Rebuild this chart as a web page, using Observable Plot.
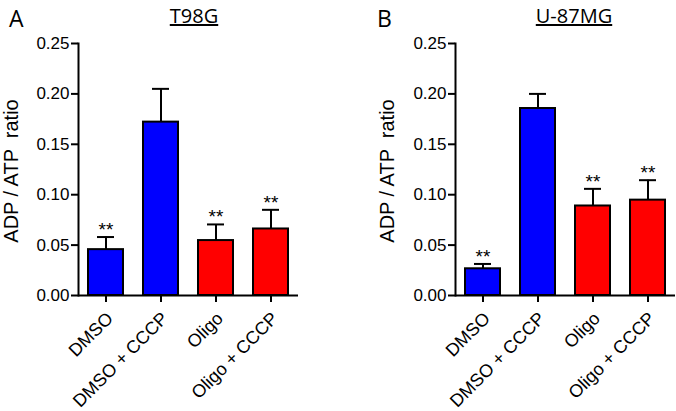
<!DOCTYPE html>
<html>
<head>
<meta charset="utf-8">
<script src="https://cdn.jsdelivr.net/npm/d3@7"></script>
<script src="https://cdn.jsdelivr.net/npm/@observablehq/plot@0.6"></script>
<style>
  html, body { margin: 0; padding: 0; background: #fff; }
  #wrap { position: relative; width: 676px; height: 411px; overflow: hidden; background: #fff; }
  .panel { position: absolute; top: 0; }
  .letter { position: absolute; top: 3px; font: 23px "Open Sans", sans-serif; line-height: 30px; height: 30px; color: #000; }
  .title { position: absolute; top: 4px; font: 20px "Open Sans", sans-serif; line-height: 24px; color: #000; text-decoration: underline; text-decoration-thickness: 1.5px; transform: translateX(-50%); white-space: nowrap; }
  .ylab { position: absolute; font: 20px "Liberation Sans", Arial, sans-serif; line-height: 22px; color: #000; white-space: pre; transform: translate(-50%, -50%) rotate(-90deg); }
</style>
</head>
<body>
<div id="wrap"></div>
<script>
const categories = ["DMSO", "DMSO + CCCP", "Oligo", "Oligo + CCCP"];
const barColors = ["#0000ff", "#0000ff", "#ff0000", "#ff0000"];
const t98gMeans = [0.0455, 0.172, 0.0545, 0.066];
const t98gErrors = [0.0125, 0.033, 0.016, 0.019];
const t98gStars = ["**", "", "**", "**"];
const u87Means = [0.0265, 0.1855, 0.0888, 0.0946];
const u87Errors = [0.0048, 0.0145, 0.017, 0.0198];
const u87Stars = ["**", "", "**", "**"];
const yTicks = [0, 0.05, 0.10, 0.15, 0.20, 0.25];
const panelTitles = ["T98G", "U-87MG"];
const panelLetters = ["A", "B"];
const yLabel = "ADP / ATP  ratio";

const FONT = "Liberation Sans, Arial, sans-serif";

function makePanel(means, errors, stars, opts) {
  const data = categories.map((c, i) => ({
    cond: c, value: means[i], err: errors[i], top: means[i] + errors[i],
    color: barColors[i], star: stars[i]
  }));
  return Plot.plot({
    width: opts.width,
    height: 411,
    marginLeft: opts.marginLeft,
    marginRight: opts.marginRight,
    marginTop: 43,
    marginBottom: 116,
    style: { fontFamily: FONT, color: "#000", background: "transparent", overflow: "visible" },
    x: { domain: categories, paddingInner: 0.355, paddingOuter: 0.1775, label: null },
    y: { domain: [0, 0.25], label: null },
    marks: [
      Plot.axisY({ ticks: yTicks, tickFormat: d3.format(".2f"), tickSize: 7, tickPadding: 2, strokeWidth: 2, fontSize: 17, fontFamily: FONT, label: null }),
      Plot.axisX({ tickSize: 7, strokeWidth: 2, tickFormat: () => "", label: null }),
      Plot.text(categories, { x: d => d, frameAnchor: "bottom", text: d => d, rotate: -45, textAnchor: "end", lineAnchor: "middle", dx: 4, dy: 20, fontSize: 18, fontFamily: FONT, fill: "#000" }),
      Plot.barY(data, { x: "cond", y: "value", fill: "color", stroke: "#000", strokeWidth: 2 }),
      Plot.ruleX(data, { x: "cond", y1: "value", y2: "top", stroke: "#000", strokeWidth: 2 }),
      Plot.tickY(data, { x: "cond", y: "top", stroke: "#000", strokeWidth: 2, insetLeft: 9, insetRight: 9 }),
      Plot.text(data.filter(d => d.star), { x: "cond", y: "top", text: "star", lineAnchor: "bottom", dy: -1, fontSize: 19, fontFamily: FONT, fill: "#000" }),
      Plot.frame({ anchor: "left", stroke: "#000", strokeWidth: 2 }),
      Plot.ruleY([0], { stroke: "#000", strokeWidth: 2 })
    ]
  });
}

const wrap = document.getElementById("wrap");

function addPanel(left, width, marginLeft, marginRight, means, errors, stars, idx, titleX, letterX, ylabX) {
  const div = document.createElement("div");
  div.className = "panel";
  div.style.left = left + "px";
  div.appendChild(makePanel(means, errors, stars, { width, marginLeft, marginRight }));
  wrap.appendChild(div);

  const letter = document.createElement("div");
  letter.className = "letter";
  letter.style.left = letterX + "px";
  letter.textContent = panelLetters[idx];
  wrap.appendChild(letter);

  const title = document.createElement("div");
  title.className = "title";
  title.style.left = titleX + "px";
  title.textContent = panelTitles[idx];
  wrap.appendChild(title);

  const yl = document.createElement("div");
  yl.className = "ylab";
  yl.style.left = ylabX + "px";
  yl.style.top = "171px";
  yl.textContent = yLabel;
  wrap.appendChild(yl);
}

addPanel(0, 340, 78, 42, t98gMeans, t98gErrors, t98gStars, 0, 194, 9, 11);
addPanel(340, 336, 115, 1, u87Means, u87Errors, u87Stars, 1, 574, 377, 387);
</script>
</body>
</html>
